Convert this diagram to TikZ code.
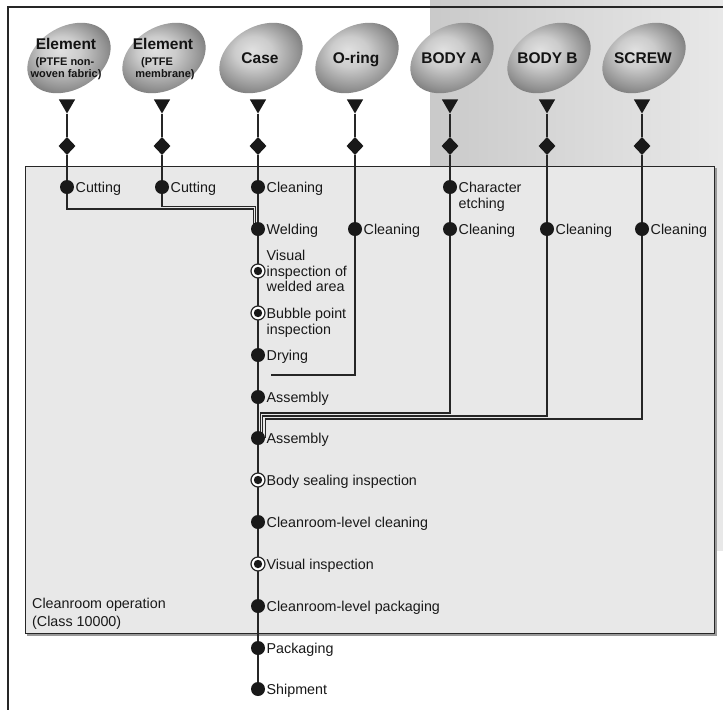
\documentclass[tikz,border=0pt]{standalone}
\usepackage{fontspec}
\setmainfont{Liberation Sans}
\usetikzlibrary{shapes.geometric}
\pgfdeclarelayer{bgzero}
\pgfdeclarelayer{bgone}
\pgfsetlayers{bgzero,bgone,main}
\newcommand\lblfont{\fontsize{14.3}{16}\selectfont}
\newcommand\ellbigfont{\fontsize{15.5}{17}\selectfont\bfseries}
\newcommand\ellsmallfont{\fontsize{11}{12}\selectfont\bfseries}
\pgfdeclareradialshading{ellsh}{\pgfpoint{-5bp}{6bp}}{color(0bp)=(black!12); color(10bp)=(black!20); color(22bp)=(black!42); color(30bp)=(black!58); color(50bp)=(black!58)}
\begin{document}
\begin{tikzpicture}[x=1pt,y=-1pt,
  dotn/.style={circle, fill=black!90, minimum size=14pt, inner sep=0pt},
  inspn/.style={circle, draw=black!85, line width=1.2pt, fill=white, minimum size=14pt, inner sep=0pt,
    path picture={\fill[black!90] (path picture bounding box.center) circle (4.2pt);}},
  lbl/.style={anchor=base west, inner sep=0pt, font=\lblfont, text=black!90},
  tri/.style={regular polygon, regular polygon sides=3, shape border rotate=180, fill=black!90, minimum size=19pt, inner sep=0pt},
  dia/.style={diamond, fill=black!90, minimum width=17pt, minimum height=18pt, inner sep=0pt},
  conn/.style={line width=1.2pt, draw=black!85},
  ebig/.style={anchor=base, inner sep=0pt, font=\ellbigfont, text=black!92},
  esmall/.style={anchor=base, inner sep=0pt, font=\ellsmallfont, text=black!92}]
\useasboundingbox (0,0) rectangle (723,710);

% ---------- background ----------
\begin{pgfonlayer}{bgzero}
\fill[white] (0,0) rectangle (723,710);
\shade[left color=black!21, right color=black!9] (430,0) rectangle (723,550);
\draw[line width=1.5pt, black!85] (723,7) -- (8,7) -- (8,710);
\fill[black!40] (27,168) rectangle (716.5,635.5);
\draw[draw=black!85, fill=black!9, line width=1pt] (25,166) rectangle (714,633);
\end{pgfonlayer}

% ---------- ellipses ----------
\foreach \x in {69,164,261,357,452,549,644} {
  \shade[shading=ellsh, rotate around={30:(\x,58)}] (\x,58) ellipse [x radius=44.5, y radius=31.5];
}
\node[ebig] (eAt1) at (66,49.5) {Element};
\node[esmall] (eAt2) at (65,65.5) {(PTFE non-};
\node[esmall] (eAt3) at (66,77.5) {woven fabric)};
\node[ebig] (eBt1) at (163,49.5) {Element};
\node[esmall] (eBt2) at (157,65.5) {(PTFE};
\node[esmall] (eBt3) at (165,77.5) {membrane)};
\node[ebig] (eCt) at (260,63.5) {Case};
\node[ebig] (eDt) at (356,63.5) {O-ring};
\node[ebig] (eEt) at (451.5,63.5) {BODY A};
\node[ebig] (eFt) at (547.5,63.5) {BODY B};
\node[ebig] (eGt) at (643,63.5) {SCREW};

% ---------- triangles and diamonds ----------
\foreach \n/\x in {A/67,B/162,C/258,D/355,E/450,F/547,G/642} {
  \node[tri] (t\n) at (\x,104) {};
  \node[dia] (d\n) at (\x,146) {};
}

% ---------- process steps ----------
\node[dotn] (cutA) at (67,187) {};
\node[lbl] (cutAl) at ([xshift=8.5pt,yshift=-5pt]cutA.center) {Cutting};
\node[dotn] (cutB) at (162,187) {};
\node[lbl] (cutBl) at ([xshift=8.5pt,yshift=-5pt]cutB.center) {Cutting};
\node[dotn] (cleanC) at (258,187) {};
\node[lbl] (cleanCl) at ([xshift=8.5pt,yshift=-5pt]cleanC.center) {Cleaning};
\node[dotn] (etchE) at (450,187) {};
\node[lbl] (etchEl1) at ([xshift=8.5pt,yshift=-5pt]etchE.center) {Character};
\node[lbl] (etchEl2) at ([xshift=8.5pt,yshift=-21pt]etchE.center) {etching};

\node[dotn] (weld) at (258,229) {};
\node[lbl] (weldl) at ([xshift=8.5pt,yshift=-5pt]weld.center) {Welding};
\node[dotn] (cleanD) at (355,229) {};
\node[lbl] (cleanDl) at ([xshift=8.5pt,yshift=-5pt]cleanD.center) {Cleaning};
\node[dotn] (cleanE) at (450,229) {};
\node[lbl] (cleanEl) at ([xshift=8.5pt,yshift=-5pt]cleanE.center) {Cleaning};
\node[dotn] (cleanF) at (547,229) {};
\node[lbl] (cleanFl) at ([xshift=8.5pt,yshift=-5pt]cleanF.center) {Cleaning};
\node[dotn] (cleanG) at (642,229) {};
\node[lbl] (cleanGl) at ([xshift=8.5pt,yshift=-5pt]cleanG.center) {Cleaning};

\node[inspn] (visw) at (258,271) {};
\node[lbl] (viswl1) at ([xshift=8.5pt,yshift=10.5pt]visw.center) {Visual};
\node[lbl] (viswl2) at ([xshift=8.5pt,yshift=-5pt]visw.center) {inspection of};
\node[lbl] (viswl3) at ([xshift=8.5pt,yshift=-20.5pt]visw.center) {welded area};

\node[inspn] (bub) at (258,313) {};
\node[lbl] (bubl1) at ([xshift=8.5pt,yshift=-5pt]bub.center) {Bubble point};
\node[lbl] (bubl2) at ([xshift=8.5pt,yshift=-21pt]bub.center) {inspection};

\node[dotn] (dry) at (258,355) {};
\node[lbl] (dryl) at ([xshift=8.5pt,yshift=-5pt]dry.center) {Drying};
\node[dotn] (asm1) at (258,397) {};
\node[lbl] (asm1l) at ([xshift=8.5pt,yshift=-5pt]asm1.center) {Assembly};
\node[dotn] (asm2) at (258,438) {};
\node[lbl] (asm2l) at ([xshift=8.5pt,yshift=-5pt]asm2.center) {Assembly};
\node[inspn] (bsi) at (258,480) {};
\node[lbl] (bsil) at ([xshift=8.5pt,yshift=-5pt]bsi.center) {Body sealing inspection};
\node[dotn] (crc) at (258,522) {};
\node[lbl] (crcl) at ([xshift=8.5pt,yshift=-5pt]crc.center) {Cleanroom-level cleaning};
\node[inspn] (vis) at (258,564) {};
\node[lbl] (visl) at ([xshift=8.5pt,yshift=-5pt]vis.center) {Visual inspection};
\node[dotn] (crp) at (258,606) {};
\node[lbl] (crpl) at ([xshift=8.5pt,yshift=-5pt]crp.center) {Cleanroom-level packaging};
\node[dotn] (pack) at (258,648) {};
\node[lbl] (packl) at ([xshift=8.5pt,yshift=-5pt]pack.center) {Packaging};
\node[dotn] (ship) at (258,689) {};
\node[lbl] (shipl) at ([xshift=8.5pt,yshift=-5pt]ship.center) {Shipment};

\node[lbl] (cr1) at (32,608) {Cleanroom operation};
\node[lbl] (cr2) at (32,626) {(Class 10000)};

% ---------- junction points ----------
\coordinate (jA) at (253.3,209);
\coordinate (jB) at (255.6,206.5);
\coordinate (oEnd) at (271,375);
\coordinate (jE) at (260.5,413);
\coordinate (jF) at (262.8,416);
\coordinate (jG) at (265.2,419);

% ---------- connectors ----------
\begin{pgfonlayer}{bgone}
\draw[conn] (tA) -- (dA) -- (cutA.center) |- (jA) -- (jA |- weld.center);
\draw[conn] (tB) -- (dB) -- (cutB.center) |- (jB) -- (jB |- weld.center);
\draw[conn] (tC) -- (dC) -- (cleanC.center) -- (weld.center) -- (visw.center) -- (bub.center)
  -- (dry.center) -- (asm1.center) -- (asm2.center) -- (bsi.center) -- (crc.center)
  -- (vis.center) -- (crp.center) -- (pack.center) -- (ship.center);
\draw[conn] (tD) -- (dD) -- (cleanD.center) |- (oEnd);
\draw[conn] (tE) -- (dE) -- (etchE.center) -- (cleanE.center) |- (jE) -- (jE |- asm2.center);
\draw[conn] (tF) -- (dF) -- (cleanF.center) |- (jF) -- (jF |- asm2.center);
\draw[conn, line width=1.9pt] (tG) -- (dG) -- (cleanG.center) -- (cleanG |- jG);
\draw[conn] (cleanG.center) |- (jG) -- (jG |- asm2.center);
\end{pgfonlayer}
\end{tikzpicture}
\end{document}
